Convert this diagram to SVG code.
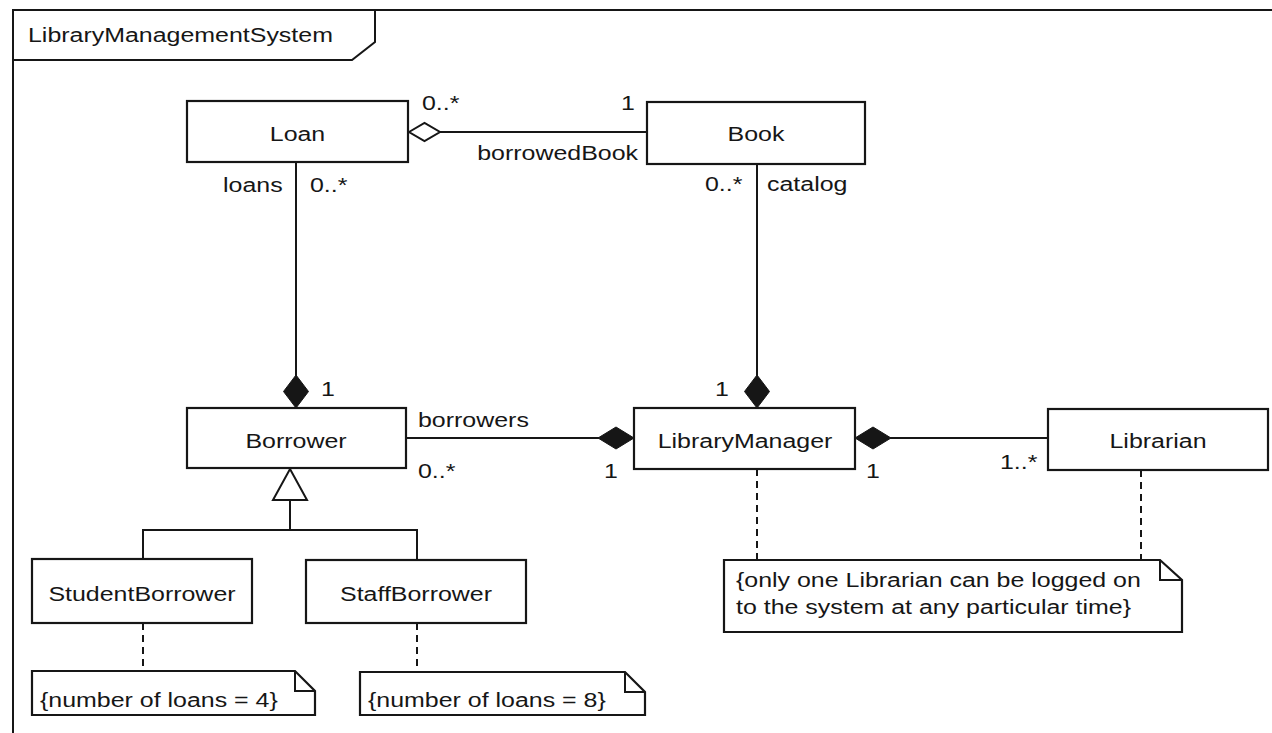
<svg xmlns="http://www.w3.org/2000/svg" width="1272" height="733" viewBox="0 0 1272 733">
  <style>
    text { font-family: "Liberation Sans", Arial, Helvetica, sans-serif; font-size: 19.5px; fill: #161616; }
    .mid { text-anchor: middle; }
    .end { text-anchor: end; }
    .box { fill: #fff; stroke: #161616; stroke-width: 2.2; }
    .line { fill: none; stroke: #161616; stroke-width: 2; }
    .dash { fill: none; stroke: #161616; stroke-width: 2; stroke-dasharray: 7 5; }
    .solid { fill: #161616; stroke: #161616; stroke-width: 1; }
    .hollow { fill: #fff; stroke: #161616; stroke-width: 2; }
  </style>
  <rect width="1272" height="733" fill="#fff"/>

  <!-- frame with name tab -->
  <g id="frame">
    <path class="line" d="M13 733 V10 H1272"/>
    <path class="line" d="M13 60 H352 L375 42 V10"/>
    <text transform="translate(28 42) scale(1.28 1)">LibraryManagementSystem</text>
  </g>

  <!-- connectors -->
  <g id="connectors">
    <!-- Loan - Book aggregation -->
    <line class="line" x1="440" y1="132" x2="647" y2="132"/>
    <polygon class="hollow" points="409,132 424.5,123 440,132 424.5,141"/>
    <!-- Loan - Borrower composition -->
    <line class="line" x1="296" y1="162" x2="296" y2="376"/>
    <polygon class="solid" points="296,375 308.5,391.5 296,408 283.5,391.5"/>
    <!-- Book - LibraryManager composition -->
    <line class="line" x1="757" y1="164" x2="757" y2="376"/>
    <polygon class="solid" points="757,375 769.5,391.5 757,408 744.5,391.5"/>
    <!-- Borrower - LibraryManager composition -->
    <line class="line" x1="406" y1="438" x2="599" y2="438"/>
    <polygon class="solid" points="598,438 616,427 634,438 616,449"/>
    <!-- LibraryManager - Librarian composition -->
    <line class="line" x1="890" y1="438" x2="1048" y2="438"/>
    <polygon class="solid" points="855,438 873,427 891,438 873,449"/>
    <!-- generalization -->
    <path class="line" d="M290 500 V530 M143 559 V530 H417 V560"/>
    <polygon class="hollow" points="290,469 307,500 273,500"/>
    <!-- note anchors -->
    <line class="dash" x1="143" y1="623" x2="143" y2="671"/>
    <line class="dash" x1="417" y1="623" x2="417" y2="672"/>
    <line class="dash" x1="757" y1="469" x2="757" y2="560"/>
    <line class="dash" x1="1141" y1="470" x2="1141" y2="560"/>

    <!-- multiplicities and role names -->
    <text transform="translate(422 110) scale(1.28 1)">0..*</text>
    <text transform="translate(621 110) scale(1.28 1)">1</text>
    <text class="end" transform="translate(638 160) scale(1.28 1)">borrowedBook</text>
    <text transform="translate(223 192) scale(1.28 1)">loans</text>
    <text transform="translate(310 192) scale(1.28 1)">0..*</text>
    <text transform="translate(705 191) scale(1.28 1)">0..*</text>
    <text transform="translate(767 191) scale(1.28 1)">catalog</text>
    <text transform="translate(321 396) scale(1.28 1)">1</text>
    <text transform="translate(715 396) scale(1.28 1)">1</text>
    <text transform="translate(418 427) scale(1.28 1)">borrowers</text>
    <text transform="translate(418 478) scale(1.28 1)">0..*</text>
    <text transform="translate(604 478) scale(1.28 1)">1</text>
    <text transform="translate(866 478) scale(1.28 1)">1</text>
    <text transform="translate(1000 469) scale(1.28 1)">1..*</text>
  </g>

  <!-- classes -->
  <g id="Loan">
    <rect class="box" x="187" y="101" width="221" height="61"/>
    <text class="mid" transform="translate(297.5 141) scale(1.28 1)">Loan</text>
  </g>
  <g id="Book">
    <rect class="box" x="647" y="102" width="218" height="62"/>
    <text class="mid" transform="translate(756 141) scale(1.28 1)">Book</text>
  </g>
  <g id="Borrower">
    <rect class="box" x="187" y="408" width="219" height="60"/>
    <text class="mid" transform="translate(296 448) scale(1.28 1)">Borrower</text>
  </g>
  <g id="LibraryManager">
    <rect class="box" x="634" y="408" width="221" height="61"/>
    <text class="mid" transform="translate(745 448) scale(1.28 1)">LibraryManager</text>
  </g>
  <g id="Librarian">
    <rect class="box" x="1048" y="409" width="220" height="61"/>
    <text class="mid" transform="translate(1158 448) scale(1.28 1)">Librarian</text>
  </g>
  <g id="StudentBorrower">
    <rect class="box" x="32" y="559" width="220" height="64"/>
    <text class="mid" transform="translate(142 601) scale(1.28 1)">StudentBorrower</text>
  </g>
  <g id="StaffBorrower">
    <rect class="box" x="306" y="560" width="220" height="63"/>
    <text class="mid" transform="translate(416 601) scale(1.28 1)">StaffBorrower</text>
  </g>

  <!-- constraint notes -->
  <g id="note-student">
    <path class="box" d="M32 671 H295 L315 691 V715 H32 Z"/>
    <path class="line" d="M295 671 V691 H315"/>
    <text transform="translate(40 707) scale(1.28 1)">{number of loans = 4}</text>
  </g>
  <g id="note-staff">
    <path class="box" d="M360 672 H625 L645 692 V715 H360 Z"/>
    <path class="line" d="M625 672 V692 H645"/>
    <text transform="translate(368 707) scale(1.28 1)">{number of loans = 8}</text>
  </g>
  <g id="note-librarian">
    <path class="box" d="M724 560 H1160 L1182 580 V632 H724 Z"/>
    <path class="line" d="M1160 560 V580 H1182"/>
    <text transform="translate(736 587) scale(1.28 1)">{only one Librarian can be logged on</text>
    <text transform="translate(736 614) scale(1.28 1)">to the system at any particular time}</text>
  </g>
</svg>
